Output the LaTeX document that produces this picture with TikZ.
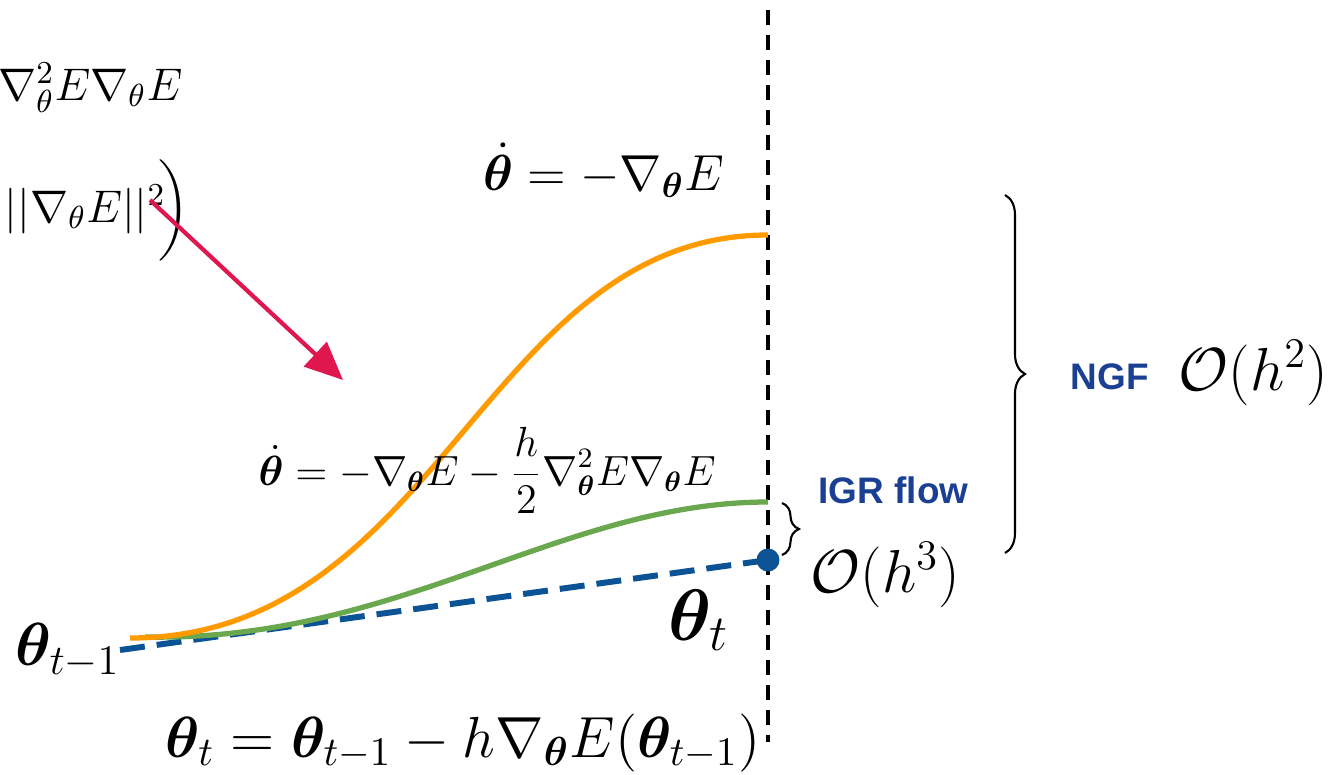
\RequirePackage{fix-cm}
\documentclass[tikz,border=0pt]{standalone}
\usepackage{amsmath,bm}
\usepackage{fontspec}
\newfontfamily\labelfont{Liberation Sans}
\usetikzlibrary{arrows.meta,decorations.pathreplacing,positioning}
\definecolor{ngforange}{HTML}{FF9A00}
\definecolor{igrgreen}{HTML}{6AA84F}
\definecolor{gdblue}{HTML}{0B5394}
\definecolor{arrowred}{HTML}{E0174F}
\definecolor{labelblue}{HTML}{1A3F93}
\tikzset{flow/.style={line width=1.5pt},
  eq/.style={anchor=base west,inner sep=0pt},
  lbl/.style={anchor=base west,inner sep=0pt,font=\labelfont\bfseries\fontsize{10.5}{12}\selectfont,text=labelblue},
  br/.style={decorate,decoration={brace,amplitude=#1},line width=0.6pt}}

\begin{document}
\begin{tikzpicture}[x=0.1mm,y=-0.1mm]
 	\useasboundingbox (0,0) rectangle (1328,775);
 	% end points
 	\coordinate (start) at (130,638);
 	\coordinate (igrstart) at (145,637);
 	\coordinate (ngfend) at (768,235);
 	\coordinate (igrend) at (768,502);
 	\coordinate (gdstart) at (120,650);
 	\coordinate (gdend) at (768,560);
 	\coordinate (vtop) at (768,10);
 	\coordinate (vbot) at (768,742);
 	% flows
 	\draw[line width=1.1pt,dash pattern=on 1.5mm off 1mm] (vtop)--(vbot);
 	\draw[gdblue,line width=1.7pt,dash pattern=on 2.5mm off 1.2mm] (gdstart)--(gdend);
 	\draw[flow,igrgreen] (igrstart) .. controls (400,642) and (560,502) .. (igrend);
 	\draw[flow,ngforange] (start) .. controls (440,638) and (485,235) .. (ngfend);
 	\fill[gdblue] (gdend) circle (1.15mm);
 	% texts
 	\node[anchor=base east,inner sep=0pt,font=\fontsize{13}{15}\selectfont] (hess) at (183,100) {$\nabla^2_\theta E\nabla_\theta E$};
 	\node[anchor=base east,inner sep=0pt,font=\fontsize{13}{15}\selectfont] (norm) at (190,222) {$||\nabla_\theta E||^2\!\biggr)$};
 	\node[eq,font=\Large] (ngfeq) at (483,190) {$\dot{\bm{\theta}}=-\nabla_{\bm{\theta}}E$};
 	\node[eq,font=\large] (igreq) at (258,485) {$\displaystyle\dot{\bm{\theta}}=-\nabla_{\bm{\theta}}E-\frac{h}{2}\nabla^2_{\bm{\theta}}E\nabla_{\bm{\theta}}E$};
 	\node[eq,font=\fontsize{16.5}{20}\selectfont] (gdeq) at (165,757) {$\bm{\theta}_t=\bm{\theta}_{t-1}-h\nabla_{\bm{\theta}}E(\bm{\theta}_{t-1})$};
 	\node[eq,font=\LARGE] (prev) at (15,665) {$\bm{\theta}_{t-1}$};
 	\node[eq,font=\huge] (next) at (668,640) {$\bm{\theta}_t$};
 	\node[lbl] (igr) at (818,503) {IGR flow};
 	\node[lbl] (ngf) at (1070,389) {NGF};
 	\node[eq,font=\LARGE] (err3) at (810,592) {$\mathcal{O}(h^3)$};
 	\node[eq,font=\LARGE] (err2) at (1178,390) {$\mathcal{O}(h^2)$};
 	% braces
 	\coordinate (bigtop) at (1005,195);
 	\coordinate (bigbot) at (1005,553);
 	\coordinate (smalltop) at (782,503);
 	\coordinate (smallbot) at (782,555);
 	\draw[br=2mm] (bigtop)--(bigbot);
 	\draw[br=1.7mm] (smalltop)--(smallbot);
 	% arrow
 	\coordinate (arrfrom) at (150,200);
 	\coordinate (arrto) at (343,380);
 	\draw[arrowred,line width=1.2pt,-{Triangle[length=3.8mm,width=3.3mm]}] (arrfrom)--(arrto);
\end{tikzpicture}
\end{document}
